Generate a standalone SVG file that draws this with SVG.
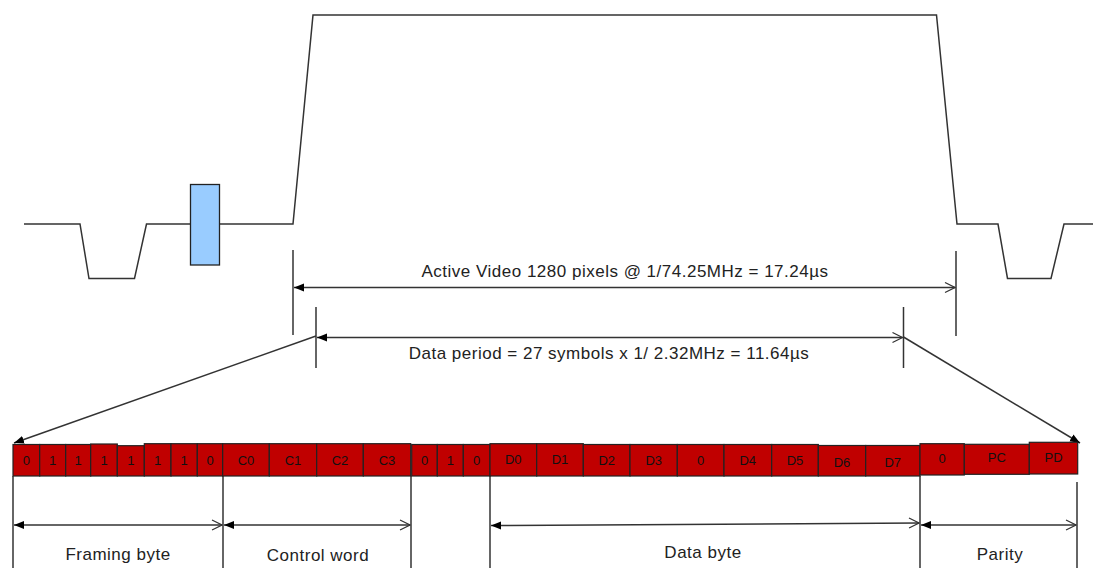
<svg xmlns="http://www.w3.org/2000/svg" width="1093" height="568" viewBox="0 0 1093 568">
<defs>
<style>
.ln{fill:none;stroke:#333;stroke-width:1.5}
.cell rect{fill:#C00000;stroke:#222;stroke-width:1.2}
.cell text{font-family:"Liberation Sans",Arial,sans-serif;font-size:13px;fill:#111;text-anchor:middle}
.lbl{font-family:"Liberation Sans",Arial,sans-serif;font-size:17px;letter-spacing:0.5px;fill:#222;text-anchor:middle}
</style>
<marker id="fs" viewBox="0 0 10 10" refX="0" refY="5" markerWidth="10" markerHeight="10" markerUnits="userSpaceOnUse" orient="auto"><path d="M10,1 L0,5 L10,9 Z" fill="#000"/></marker>
<marker id="fe" viewBox="0 0 10 10" refX="10" refY="5" markerWidth="10" markerHeight="10" markerUnits="userSpaceOnUse" orient="auto"><path d="M0,1 L10,5 L0,9 Z" fill="#000"/></marker>
<marker id="oe" viewBox="0 0 12 12" refX="11" refY="6" markerWidth="12" markerHeight="12" markerUnits="userSpaceOnUse" orient="auto"><path d="M1,1 L11,6 L1,11" fill="none" stroke="#333" stroke-width="1.2"/></marker>
</defs>
<g id="waveform">
<polyline class="ln" points="24,224 80,224 89,278.5 134.5,278.5 146.5,224 191,224"/>
<polyline class="ln" points="219.5,224 293,224 313,15 936.5,15 957,224 998,224 1007.5,278.5 1051,278.5 1064,224 1093,224"/>
<rect id="pulse" x="190.5" y="184.5" width="29" height="80.5" fill="#99CCFF" stroke="#222" stroke-width="1.3"/>
</g>
<g id="connectors">
<line class="ln" x1="293" y1="250" x2="293" y2="335"/>
<line class="ln" x1="956" y1="251" x2="956" y2="336"/>
<line class="ln" x1="294" y1="287.5" x2="955" y2="287.5" marker-start="url(#fs)" marker-end="url(#oe)"/>
<line class="ln" x1="316" y1="307" x2="316" y2="368"/>
<line class="ln" x1="903.5" y1="307" x2="903.5" y2="368"/>
<line class="ln" x1="317" y1="337.5" x2="902.5" y2="337.5" marker-start="url(#fs)" marker-end="url(#oe)"/>
<line class="ln" x1="316" y1="336" x2="14" y2="443" marker-end="url(#fe)"/>
<line class="ln" x1="903.5" y1="337" x2="1080" y2="443" marker-end="url(#fe)"/>
<line class="ln" x1="13" y1="476" x2="13" y2="568"/>
<line class="ln" x1="223" y1="476" x2="223" y2="568"/>
<line class="ln" x1="411" y1="476" x2="411" y2="568"/>
<line class="ln" x1="490" y1="476" x2="490" y2="568"/>
<line class="ln" x1="920" y1="476" x2="920" y2="568"/>
<line class="ln" x1="1077" y1="482" x2="1077" y2="568"/>
<line class="ln" x1="14" y1="525" x2="222" y2="525" marker-start="url(#fs)" marker-end="url(#oe)"/>
<line class="ln" x1="224" y1="525" x2="410" y2="525" marker-start="url(#fs)" marker-end="url(#oe)"/>
<line class="ln" x1="491" y1="525.5" x2="919" y2="523" marker-start="url(#fs)" marker-end="url(#oe)"/>
<line class="ln" x1="921" y1="525" x2="1076" y2="525" marker-start="url(#fs)" marker-end="url(#oe)"/>
</g>
<text class="lbl" x="625" y="277">Active Video 1280 pixels @ 1/74.25MHz = 17.24µs</text>
<text class="lbl" x="609" y="359">Data period = 27 symbols x 1/ 2.32MHz = 11.64µs</text>
<text class="lbl" x="118" y="560">Framing byte</text>
<text class="lbl" x="318" y="561">Control word</text>
<text class="lbl" x="703" y="558">Data byte</text>
<text class="lbl" x="1000" y="560">Parity</text>
<g id="framing" class="cell">
<rect x="13" y="444.5" width="26.7" height="31.5"/><text x="26.3" y="465">0</text>
<rect x="39.7" y="444.5" width="26" height="31.5"/><text x="52.7" y="465">1</text>
<rect x="65.7" y="444.5" width="25" height="31.5"/><text x="78.2" y="465">1</text>
<rect x="90.7" y="444" width="26.6" height="32"/><text x="104" y="465">1</text>
<rect x="117.3" y="445.7" width="27" height="30.3"/><text x="130.8" y="465">1</text>
<rect x="144.3" y="443.7" width="26.7" height="32.3"/><text x="157.7" y="465">1</text>
<rect x="171" y="443.7" width="26.3" height="32.3"/><text x="184.2" y="465">1</text>
<rect x="197.3" y="443.7" width="25.4" height="32.3"/><text x="210" y="465">0</text>
</g>
<g id="control" class="cell">
<rect x="222.7" y="443.7" width="46.6" height="32.3"/><text x="246" y="465">C0</text>
<rect x="269.3" y="443.7" width="47.4" height="32.3"/><text x="293" y="465">C1</text>
<rect x="316.7" y="443.7" width="46.6" height="32.3"/><text x="340" y="465">C2</text>
<rect x="363.3" y="443.7" width="47.4" height="32.3"/><text x="387" y="465">C3</text>
</g>
<g id="sep" class="cell">
<rect x="411.7" y="444.5" width="25.6" height="31.5"/><text x="424.5" y="465">0</text>
<rect x="437.3" y="444.5" width="26" height="31.5"/><text x="450.3" y="465">1</text>
<rect x="463.3" y="444.5" width="26.7" height="31.5"/><text x="476.7" y="465">0</text>
</g>
<g id="data" class="cell">
<rect x="490" y="443.7" width="46.7" height="32.3"/><text x="513.3" y="464">D0</text>
<rect x="536.7" y="443.7" width="46.6" height="32.3"/><text x="560" y="464">D1</text>
<rect x="583.3" y="444.5" width="46.7" height="31.5"/><text x="606.7" y="465">D2</text>
<rect x="630" y="444.5" width="47.3" height="31.5"/><text x="653.7" y="465">D3</text>
<rect x="677.3" y="444.5" width="46.7" height="31.5"/><text x="700.7" y="465">0</text>
<rect x="724" y="444.5" width="47.7" height="31.5"/><text x="747.8" y="465">D4</text>
<rect x="771.7" y="444.5" width="46.6" height="31.5"/><text x="795" y="465">D5</text>
<rect x="818.3" y="445.5" width="47.4" height="30.5"/><text x="842" y="467">D6</text>
<rect x="865.7" y="445.5" width="54.3" height="30.5"/><text x="892.8" y="467">D7</text>
</g>
<g id="parity" class="cell">
<rect x="920" y="443.7" width="44.3" height="31.3"/><text x="942" y="463">0</text>
<rect x="964.3" y="444.3" width="65" height="30"/><text x="996.8" y="462">PC</text>
<rect x="1029.3" y="442.3" width="48.4" height="31.7"/><text x="1053.5" y="462">PD</text>
</g>
</svg>
